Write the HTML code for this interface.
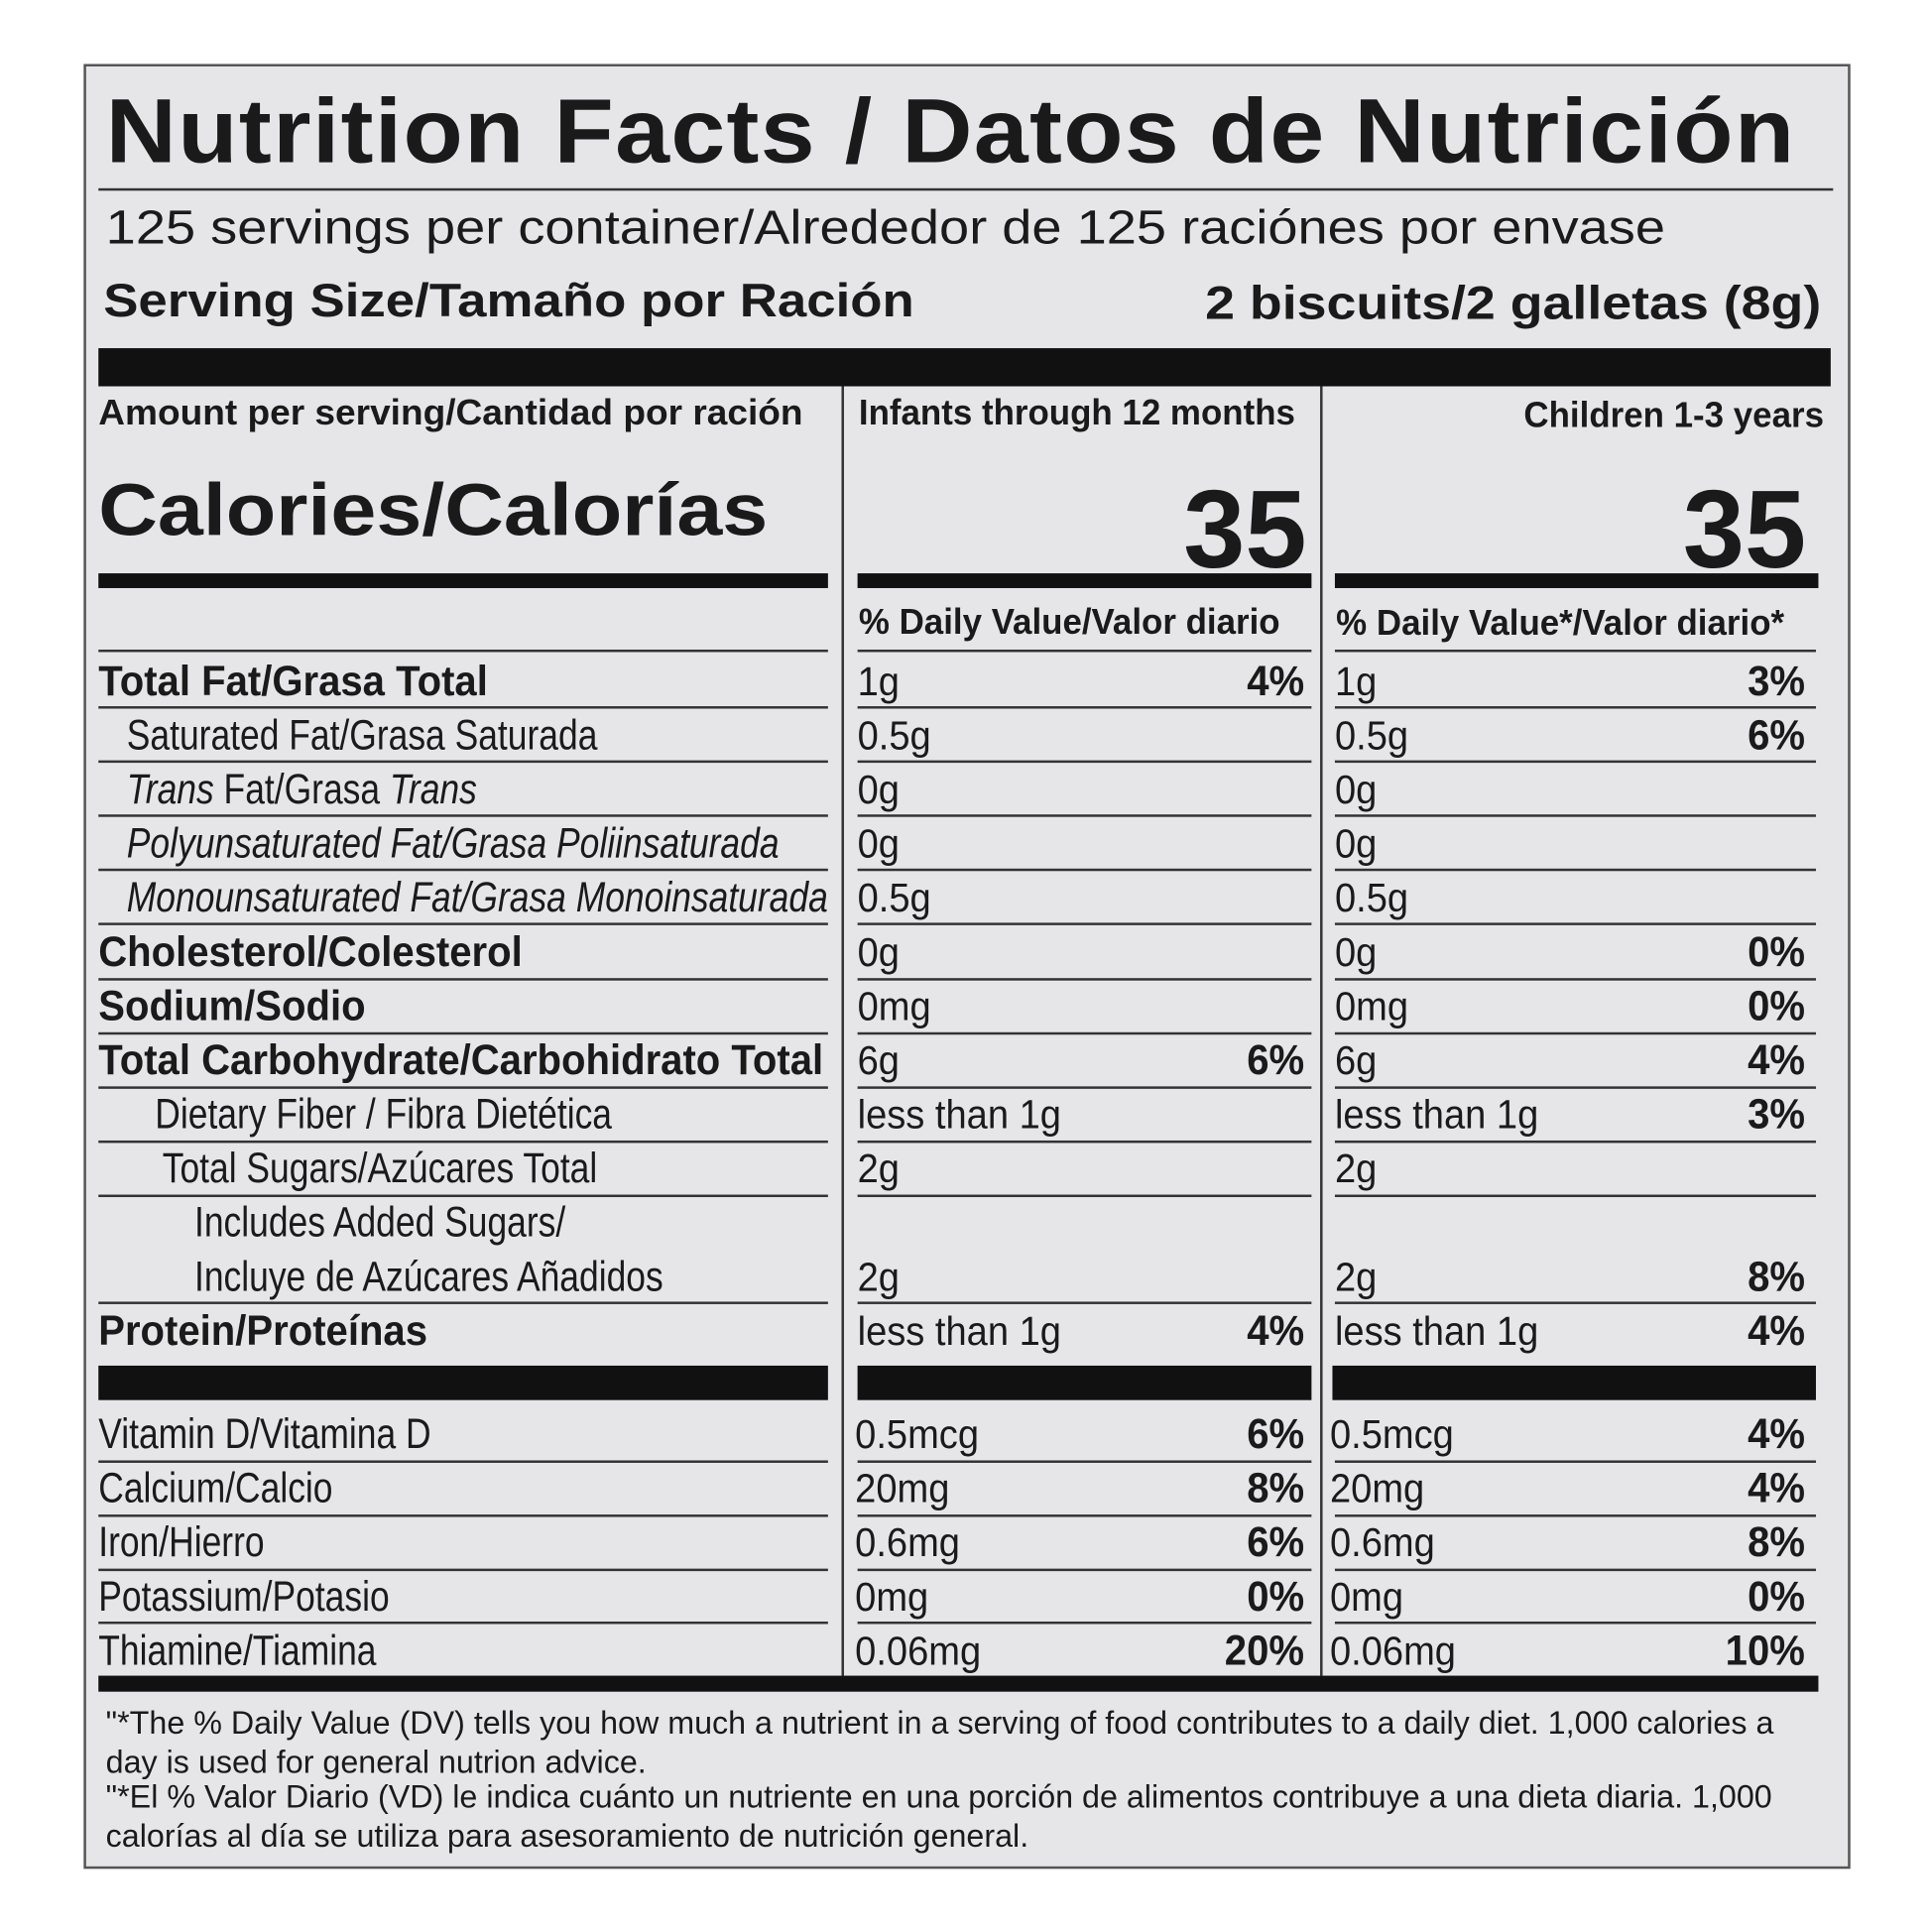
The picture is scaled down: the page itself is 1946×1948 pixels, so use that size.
<!DOCTYPE html>
<html><head><meta charset="utf-8">
<style>
html,body{margin:0;padding:0;background:#fff;width:1946px;height:1946px;overflow:hidden}
#wrap{position:absolute;left:0;top:0;width:1570px;height:1570px;transform:scale(1.2405);transform-origin:0 0;font-family:"Liberation Sans",sans-serif;color:#1a1a1a}
#label{position:absolute;left:68px;top:52px;width:1432px;height:1463px;background:#e6e6e8;border:2px solid #555}
.t{position:absolute;white-space:nowrap;line-height:1;transform-origin:0 0}
.r{transform-origin:100% 0}
.b{font-weight:bold}
.bar{position:absolute;background:#111}
.ln{position:absolute;height:1.5px;background:#333}
.vl{position:absolute;width:2px;background:#333}
</style></head><body>
<div id="wrap">
<div id="label"></div>
<div class="t b" style="left:86px;top:70px;font-size:74px;letter-spacing:1px;transform:scaleX(1.075)">Nutrition Facts / Datos de Nutrición</div>
<div class="ln" style="left:80px;top:153px;width:1410px"></div>
<div class="t" style="left:86px;top:166px;font-size:39px;transform:scaleX(1.12)">125 servings per container/Alrededor de 125 raciónes por envase</div>
<div class="t b" style="left:84px;top:226px;font-size:38px;transform:scaleX(1.12)">Serving Size/Tamaño por Ración</div>
<div class="t b r" style="right:90px;top:228px;font-size:38px;transform:scaleX(1.14)">2 biscuits/2 galletas (8g)</div>
<div class="bar" style="left:80px;top:283px;width:1408px;height:31px"></div>
<div class="vl" style="left:684px;top:314px;height:1048px"></div>
<div class="vl" style="left:1073px;top:314px;height:1048px"></div>
<div class="t b" style="left:80px;top:322px;font-size:29px;transform:scaleX(1.03)">Amount per serving/Cantidad por ración</div>
<div class="t b" style="left:698px;top:322px;font-size:29px;transform:scaleX(0.97)">Infants through 12 months</div>
<div class="t b r" style="right:88px;top:324px;font-size:29px;transform:scaleX(0.97)">Children 1-3 years</div>
<div class="t b" style="left:80px;top:385px;font-size:60px;transform:scaleX(1.11)">Calories/Calorías</div>
<div class="t b r" style="right:508px;top:386px;font-size:90px">35</div>
<div class="t b r" style="right:102px;top:386px;font-size:90px">35</div>
<div class="bar" style="left:80px;top:466px;width:593px;height:12px"></div>
<div class="bar" style="left:697px;top:466px;width:369px;height:12px"></div>
<div class="bar" style="left:1085px;top:466px;width:393px;height:12px"></div>
<div class="t b" style="left:698px;top:492px;font-size:29px;transform:scaleX(0.97)">% Daily Value/Valor diario</div>
<div class="t b" style="left:1086px;top:493px;font-size:29px;transform:scaleX(0.97)">% Daily Value*/Valor diario*</div>
<div class="ln" style="left:80px;top:528px;width:593px"></div>
<div class="ln" style="left:697px;top:528px;width:369px"></div>
<div class="ln" style="left:1085px;top:528px;width:391px"></div>
<div class="bar" style="left:80px;top:1110px;width:593px;height:28px"></div>
<div class="bar" style="left:697px;top:1110px;width:369px;height:28px"></div>
<div class="bar" style="left:1083px;top:1110px;width:393px;height:28px"></div>
<div class="bar" style="left:80px;top:1362px;width:1398px;height:13px"></div>
<div class="t" style="left:86px;top:1384px;font-size:26px;line-height:32px;width:1400px;white-space:normal">"*The % Daily Value (DV) tells you how much a nutrient in a serving of food contributes to a daily diet. 1,000 calories a day is used for general nutrion advice.</div>
<div class="t" style="left:86px;top:1444px;font-size:26px;line-height:32px;width:1400px;white-space:normal">"*El % Valor Diario (VD) le indica cuánto un nutriente en una porción de alimentos contribuye a una dieta diaria. 1,000 calorías al día se utiliza para asesoramiento de nutrición general.</div>
</div>
<script>
const labels=["Total Fat/Grasa Total","Saturated Fat/Grasa Saturada","<i>Trans</i> Fat/Grasa <i>Trans</i>","<i>Polyunsaturated Fat/Grasa Poliinsaturada</i>","<i>Monounsaturated Fat/Grasa Monoinsaturada</i>","Cholesterol/Colesterol","Sodium/Sodio","Total Carbohydrate/Carbohidrato Total","Dietary Fiber / Fibra Dietética","Total Sugars/Azúcares Total","Includes Added Sugars/<br>Incluye de Azúcares Añadidos","Protein/Proteínas","Vitamin D/Vitamina D","Calcium/Calcio","Iron/Hierro","Potassium/Potasio","Thiamine/Tiamina"];
const bold=[1,0,0,0,0,1,1,1,0,0,0,1,0,0,0,0,0];
const indent=[0,23,23,23,23,0,0,0,46,52,78,0,0,0,0,0,0];
const tops=[532,576,620,664,708,752,796,840,884,928,972,1060,1144,1188,1232,1276,1320];
const lines=[574,618,662,706,750,795,839,883,927,971,1058,null,1187,1231,1275,1318,null];
const infAmt=["1g","0.5g","0g","0g","0.5g","0g","0mg","6g","less than 1g","2g","2g","less than 1g","0.5mcg","20mg","0.6mg","0mg","0.06mg"];
const infPct=["4%","","","","","","","6%","","","","4%","6%","8%","6%","0%","20%"];
const chAmt=["1g","0.5g","0g","0g","0.5g","0g","0mg","6g","less than 1g","2g","2g","less than 1g","0.5mcg","20mg","0.6mg","0mg","0.06mg"];
const chPct=["3%","6%","","","","0%","0%","4%","3%","","8%","4%","4%","4%","8%","0%","10%"];
const W=document.getElementById('wrap');
function add(cls,style,html){const d=document.createElement('div');d.className=cls;d.style.cssText=style;if(html!==undefined)d.innerHTML=html;W.appendChild(d);return d;}
for(let i=0;i<labels.length;i++){
  const top=tops[i];const low=i>=12;const t2=i===10?top+44:top;
  const sx=bold[i]?0.95:0.84;
  let d=add('t'+(bold[i]?' b':''),`left:${80+indent[i]}px;top:${top}px;font-size:34px;line-height:44px;transform:scaleX(${sx})`,labels[i]);
  
  
  d=add('t',`left:${low?695:697}px;top:${t2}px;font-size:33px;line-height:44px;transform:scaleX(0.93)`,infAmt[i]);
  
  
  d=add('t b r',`right:${1570-1060}px;top:${t2}px;font-size:34px;line-height:44px;transform:scaleX(0.95)`,infPct[i]);
  
  
  d=add('t',`left:${low?1081:1085}px;top:${t2}px;font-size:33px;line-height:44px;transform:scaleX(0.93)`,chAmt[i]);
  
  
  d=add('t b r',`right:${1570-1467}px;top:${t2}px;font-size:34px;line-height:44px;transform:scaleX(0.95)`,chPct[i]);
  
  
  if(lines[i]!==null){
    const y=lines[i];
    [[80,593],[697,369],[1085,391]].forEach((c,k)=>{
      const l=add('ln',`left:${c[0]}px;top:${y}px;width:${c[1]}px`);
      
      
    });
  }
}
</script>
</body></html>
